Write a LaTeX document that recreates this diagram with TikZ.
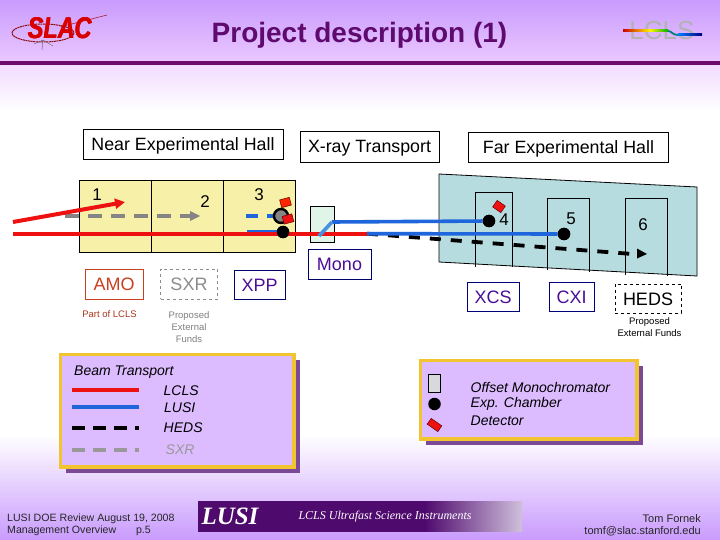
\documentclass[tikz,border=0pt]{standalone}
\usepackage{fontspec}
\setmainfont{Liberation Sans}
\newfontfamily\lusiserif{Liberation Serif}
\usetikzlibrary{arrows.meta}
\definecolor{topA}{HTML}{C99BFD}
\definecolor{topB}{HTML}{EBC8FF}
\definecolor{ruleC}{HTML}{6E0A6E}
\definecolor{titleC}{HTML}{5F0A6E}
\definecolor{hallY}{HTML}{F7F0A8}
\definecolor{hallT}{HTML}{B7DCE0}
\definecolor{monoG}{HTML}{E0F5E8}
\definecolor{beamR}{HTML}{EE1111}
\definecolor{beamB}{HTML}{1F66DD}
\definecolor{monoB}{HTML}{4A90E0}
\definecolor{greyB}{HTML}{858585}
\definecolor{legF}{HTML}{DCBCFF}
\definecolor{legS}{HTML}{7A4A96}
\definecolor{legG}{HTML}{F2C530}
\definecolor{expP}{HTML}{4B0F96}
\definecolor{amoC}{HTML}{C8401E}
\definecolor{lusiP}{HTML}{4F0A6E}
\definecolor{lusiL}{HTML}{D0C0DC}
\pgfdeclarehorizontalshading{lusibar}{100bp}{color(0bp)=(lusiP); color(25bp)=(lusiP); color(60bp)=(lusiP); color(75bp)=(lusiL); color(100bp)=(lusiL)}
\tikzset{
  labbox/.style={draw=black,fill=white,line width=.7pt,inner sep=0pt,text height=12.8pt,text depth=0pt,font=\fontsize{17.8}{20}\selectfont,text=black},
  expbox/.style={draw=#1,inner sep=0pt,line width=.8pt,text height=12.9pt,text depth=0pt,font=\fontsize{18}{20}\selectfont},
  hall/.style={draw=black,line width=.8pt,fill=hallY},
  room/.style={draw=black,line width=.8pt},
  num/.style={font=\fontsize{17}{20}\selectfont,text=black,inner sep=0pt},
  small/.style={font=\fontsize{9.5}{12}\selectfont,align=center,inner sep=0pt},
  legtext/.style={font=\itshape\fontsize{14}{17}\selectfont,inner sep=0pt,anchor=west},
  foot/.style={inner sep=0pt,text=black!85},
  chamber/.style={circle,fill=black,inner sep=0pt,minimum size=12.5pt},
  detector/.style={rectangle,fill=beamR,draw=black!60!red,line width=.5pt,inner sep=0pt,minimum width=10pt,minimum height=8pt},
  redline/.style={draw=beamR,line width=3.8pt},
  blueline/.style={draw=beamB,line width=3.6pt},
  slactext/.style={font=\bfseries\itshape\fontsize{30}{30}\selectfont,text=red!85!black,inner sep=0pt,xscale=.78}
}
\begin{document}
\begin{tikzpicture}[x=1pt,y=-1pt]
\useasboundingbox (0,0) rectangle (720,540);
% background
\fill[white] (0,0) rectangle (720,540);
\shade[top color=topA,bottom color=topB,draw=none] (0,0) rectangle (720,62);
\shade[top color=topB!70!white,bottom color=white,draw=none] (0,62) rectangle (720,110);
\shade[top color=white,bottom color=topA,draw=none] (0,435) rectangle (720,540);
\coordinate (ruleL) at (0,63);
\coordinate (ruleR) at (720,63);
\draw[ruleC,line width=3.8pt] (ruleL) -- (ruleR);
\node[text height=20pt,text depth=0pt,font=\bfseries\fontsize{28}{30}\selectfont,text=titleC,inner sep=0pt] (title) at (359.5,33) {Project description (1)};
% SLAC logo
\draw[beamR!60!black,line width=1pt,dash pattern=on 2pt off .6pt] (43,33) ellipse [x radius=31,y radius=9];
\draw[beamR!70!black,line width=.5pt] (60,27) -- (107,15);
\draw[black!60,line width=.4pt] (43,40) -- (34,44) (43,40) -- (42,50) (43,40) -- (53,46);
\node[slactext] (slac) at (59.5,28) {SLAC};
\node[slactext] (slacb) at (60.2,28) {SLAC};
\node[slactext] (slacc) at (59.5,28.6) {SLAC};
% LCLS logo
\node[font=\fontsize{26}{28}\selectfont,text=black!30,inner sep=0pt,text height=18.7pt,text depth=0pt] (lclslogo) at (662,30) {LCLS};
\shade[left color=red!80!black,right color=yellow!90!orange] (623,30) rectangle (650,32);
\shade[left color=yellow!90!orange,right color=green!70!black] (650,30) rectangle (668,32);
\draw[line width=1.8pt,green!50!blue] (668,31) .. controls (672,31) and (672,35) .. (678,35);
\shade[left color=blue!50!cyan,right color=blue!50!black] (678,34) rectangle (702,36);
% hall titles
\node[labbox,minimum width=200pt,minimum height=30pt] (nearT) at (183,144) {Near Experimental Hall};
\node[labbox,minimum width=139pt,minimum height=31pt] (xrayT) at (369.5,146.5) {X-ray Transport};
\node[labbox,minimum width=200pt,minimum height=30pt] (farT) at (568.5,147.5) {Far Experimental Hall};
% near hall
\draw[hall] (79.5,180.5) rectangle (295.5,252);
\coordinate (w1t) at (151.5,180.5); \coordinate (w1b) at (151.5,252);
\coordinate (w2t) at (223.5,180.5); \coordinate (w2b) at (223.5,252);
\draw[room] (w1t) -- (w1b);
\draw[room] (w2t) -- (w2b);
% far hall
\draw[draw=black,line width=.8pt,fill=hallT] (439,174) -- (697,187) -- (697,276) -- (439,262) -- cycle;
\draw[room] (475,267) |- (512,192) -- (512,267);
\draw[room] (547,270) |- (589.5,198) -- (589.5,272);
\draw[room] (625,275) |- (667.5,198) -- (667.5,276);
% mono box
\node[draw=black,fill=monoG,line width=.8pt,minimum width=24.5pt,minimum height=35.5pt,inner sep=0pt] (monobox) at (322.3,224.5) {};
% numbers
\node[num] (n1) at (97,194.5) {1};
\node[num] (n2) at (205,201.5) {2};
\node[num] (n3) at (259,194.5) {3};
\node[num] (n4) at (504,220) {4};
\node[num] (n5) at (571,219) {5};
\node[num] (n6) at (643,225) {6};
% beams
\coordinate (redS) at (13,233.7);
\coordinate (split) at (367,233.7);
\coordinate (greyS) at (65,216);
\coordinate (greyE) at (200,216);
\coordinate (redAS) at (13,222);
\coordinate (redAE) at (125,202);
\coordinate (hedsE) at (647,254);
\coordinate (monoA) at (319,236);
\coordinate (monoC) at (332,222);
\node[chamber] (c3a) at (283,232) {};
\node[chamber] (c4) at (489,221) {};
\node[chamber] (c5) at (564,234) {};
\coordinate (bl3s) at (246,216);
\coordinate (bl3t) at (247,232);
\coordinate (c3bw) at (274,216);
\draw[greyB,line width=3.6pt,dash pattern=on 14pt off 9pt] (greyS) -- ([xshift=-8pt]greyE);
\path[fill=greyB] (greyE) -- ++(-10,-5) -- ++(0,10) -- cycle;
\draw[beamB,line width=3.6pt,dash pattern=on 12pt off 9pt] (bl3s) -- (c3bw);
\node[circle,draw=black,fill=greyB,line width=2.4pt,minimum size=14pt,inner sep=0pt] (c3b) at (281,216) {};
\draw[blueline] (bl3t) -- (c3a);
\draw[redline] (redS) -- (split);
\draw[black,line width=3.8pt,dash pattern=on 11pt off 10pt] (split) -- ([xshift=-8pt,yshift=-.5pt]hedsE);
\path[fill=black] (hedsE) -- ++(-10,-5.5) -- ++(0,10) -- cycle;
\draw[blueline] (split) -- (c5);
\draw[blueline] (monoC) -- (c4);
\draw[draw=monoB,line width=3.6pt] (monoA) -- (monoC);
\draw[beamR,line width=4pt,-{Triangle[length=10pt,width=10pt]}] (redAS) -- (redAE);
\node[detector,fill=red!70!orange,rotate=15] (d3a) at (285.5,202.5) {};
\node[detector,rotate=15] (d3b) at (288,219) {};
\node[detector,rotate=-35] (d4) at (499,206.5) {};
\fill (c3a) circle (6.2pt);
\fill (c4) circle (6.2pt);
\fill (c5) circle (6.2pt);
% experiment labels
\node[expbox=amoC,text=amoC,minimum width=58pt,minimum height=30.5pt] (amo) at (114,284.2) {AMO};
\node[expbox=black!45,text=black!45,dashed,minimum width=57pt,minimum height=30.5pt] (sxr) at (189,284.2) {SXR};
\node[expbox=black!30!blue!60!black,text=expP,minimum width=51.5pt,minimum height=29pt] (xpp) at (259.7,285) {XPP};
\node[expbox=black!30!blue!60!black,text=expP,fill=white,minimum width=63pt,minimum height=30pt] (mono) at (339.5,264.5) {Mono};
\node[expbox=black!20!blue!60!black,text=expP,minimum width=52.5pt,minimum height=29.5pt] (xcs) at (493.2,296.7) {XCS};
\node[expbox=black!20!blue!60!black,text=expP,minimum width=45.5pt,minimum height=29.5pt] (cxi) at (571.7,296.7) {CXI};
\node[expbox=black,text=black,dashed,minimum width=66pt,minimum height=29.5pt] (heds) at (648,298.7) {HEDS};
\node[small,text=amoC!85!black] (partlcls) at (109.5,314.5) {Part of LCLS};
\node[small,text=black!50,align=center] (prop1) at (189,327) {Proposed\\External\\Funds};
\node[small,text=black] (prop2) at (649.5,327.5) {Proposed\\External Funds};
% left legend
\fill[legS] (66,360) rectangle (300,473);
\draw[draw=legG,fill=legF,line width=3.4pt] (60.5,354.5) rectangle (294,467);
\node[legtext] (lbt) at (74,372) {Beam Transport};
\coordinate (l1a) at (72,390); \coordinate (l1b) at (139,390);
\coordinate (l2a) at (72,407); \coordinate (l2b) at (139,407);
\coordinate (l3a) at (72,428); \coordinate (l3b) at (139,428);
\coordinate (l4a) at (72,450); \coordinate (l4b) at (139,450);
\draw[redline] (l1a) -- (l1b);
\draw[blueline] (l2a) -- (l2b);
\draw[black,line width=3.4pt,dash pattern=on 13pt off 8pt] (l3a) -- (l3b);
\draw[black!40,line width=3.4pt,dash pattern=on 13pt off 8pt] (l4a) -- (l4b);
\node[legtext] (ll1) at (163.5,391) {LCLS};
\node[legtext] (ll2) at (164,408) {LUSI};
\node[legtext] (ll3) at (163.5,428) {HEDS};
\node[legtext,text=black!40] (ll4) at (165.5,450) {SXR};
% right legend
\fill[legS] (426,366) rectangle (643,445);
\draw[draw=legG,fill=legF,line width=3.4pt] (420.5,360.5) rectangle (637,439);
\node[draw=black,fill=blue!10!black!15!white,line width=.7pt,minimum width=12.5pt,minimum height=18pt,inner sep=0pt] (lgm) at (434.5,383) {};
\node[chamber] (lgc) at (434.5,404) {};
\node[detector,minimum width=13pt,minimum height=7pt,rotate=-35] (lgd) at (434.5,425) {};
\node[legtext] (lr1) at (470.5,387) {Offset Monochromator};
\node[legtext] (lr2) at (470.5,404) {Exp. Chamber};
\node[legtext] (lr3) at (470.5,421) {Detector};
% footer
\node[foot,anchor=west,align=left,font=\fontsize{10.6}{12}\selectfont] (fl) at (7,525) {LUSI DOE Review August 19, 2008\\Management Overview \hspace{14pt} p.5};
\node[foot,anchor=east,align=right,font=\fontsize{11}{12}\selectfont] (fr) at (701,525) {Tom Fornek\\tomf@slac.stanford.edu};
\shade[shading=lusibar] (198,501) rectangle (522,531);
\node[font=\lusiserif\itshape\bfseries\fontsize{25}{26}\selectfont,text=white,inner sep=0pt] (lusi) at (230,516) {LUSI};
\node[font=\lusiserif\itshape\fontsize{12}{13}\selectfont,text=white,inner sep=0pt] (lusis) at (385,517) {LCLS Ultrafast Science Instruments};
\end{tikzpicture}
\end{document}
